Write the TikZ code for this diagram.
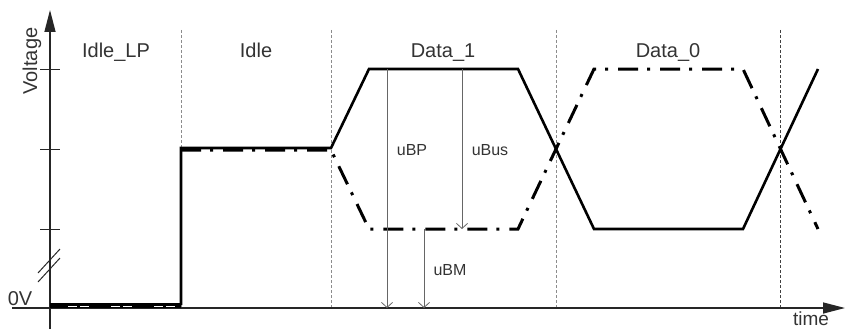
\documentclass[tikz,border=0pt]{standalone}
\usepackage{fontspec}
\setmainfont{Liberation Sans}
\usetikzlibrary{arrows.meta}
\begin{document}
\begin{tikzpicture}[x=1pt,y=-1pt,
  lbl/.style={font=\fontsize{20}{24}\selectfont, text=black!80, inner sep=0pt, anchor=base},
  smalllbl/.style={font=\fontsize{16}{19}\selectfont, text=black!80, inner sep=0pt, anchor=base},
  sig/.style={draw=black, line width=2.6pt, line join=miter},
  dashdot/.style={draw=black, line width=3pt, dash pattern=on 20pt off 9pt on 3pt off 10pt},
  meas/.style={draw=black!60, line width=0.8pt, -{Straight Barb[length=5pt,width=11pt]}},
  sep/.style={draw=black!45, line width=0.7pt, dash pattern=on 3pt off 2pt},
  axisline/.style={draw=black!85, line width=1.4pt},
  tickline/.style={draw=black!85, line width=1pt}]
\useasboundingbox (0,0) rectangle (845,329);

% section separators
\foreach \x in {181,331,556} \draw[sep] (\x,30) -- (\x,308);
\draw[sep, draw=black!75] (780,30) -- (780,308);

% axes
\coordinate (yb) at (50,329); \coordinate (yt) at (50,10);
\coordinate (xl) at (12,308); \coordinate (xr) at (845,308);
\draw[axisline, -{Triangle[length=22pt,width=11pt]}] (yb) -- (yt);
\draw[axisline, -{Triangle[length=22pt,width=11pt]}] (xl) -- (xr);

% ticks
\foreach \y in {69,149,229} \draw[tickline] (40,\y) -- (60,\y);
% axis break
\draw[tickline] (38,273) -- (60,249);
\draw[tickline] (38,282) -- (60,258);

% Idle_LP (0 V) bar
\draw[draw=black, line width=5pt] (50,305.5) -- (181,305.5);
\draw[draw=white, line width=1.6pt, dash pattern=on 9pt off 3pt on 9pt off 22pt, dash phase=-18pt] (50,306.4) -- (181,306.4);

% dash-dot signal
\draw[dashdot] (181,150) -- (331,150) -- (369,229) -- (518,229) -- (594,69) -- (743,69) -- (818,229);
% solid signal
\draw[sig] (181,305) -- (181,148) -- (331,148) -- (369,69) -- (518,69) -- (594,229) -- (743,229) -- (818,69);

% measurement arrows
\coordinate (bpT) at (387,69);  \coordinate (bpB) at (387,308);
\coordinate (busT) at (462,69); \coordinate (busB) at (462,229);
\coordinate (bmT) at (424,229); \coordinate (bmB) at (424,308);
\draw[meas] (bpT) -- (bpB);
\draw[meas] (busT) -- (busB);
\draw[meas] (bmT) -- (bmB);

% labels
\node[lbl] (lIdleLP) at (116,57) {Idle\_LP};
\node[lbl] (lIdle) at (256,57) {Idle};
\node[lbl] (lData1) at (443,57) {Data\_1};
\node[lbl] (lData0) at (668,57) {Data\_0};
\node[smalllbl] (lBP) at (412,155) {uBP};
\node[smalllbl] (lBus) at (490,155) {uBus};
\node[smalllbl] (lBM) at (450,275) {uBM};
\node[lbl] (l0V) at (20,305) {0V};
\node[lbl, font=\fontsize{19}{23}\selectfont] (ltime) at (811,325) {time};
\node[font=\fontsize{20}{24}\selectfont, text=black!80, inner sep=0pt, rotate=90] (lVolt) at (32,61) {Voltage};
\end{tikzpicture}
\end{document}
